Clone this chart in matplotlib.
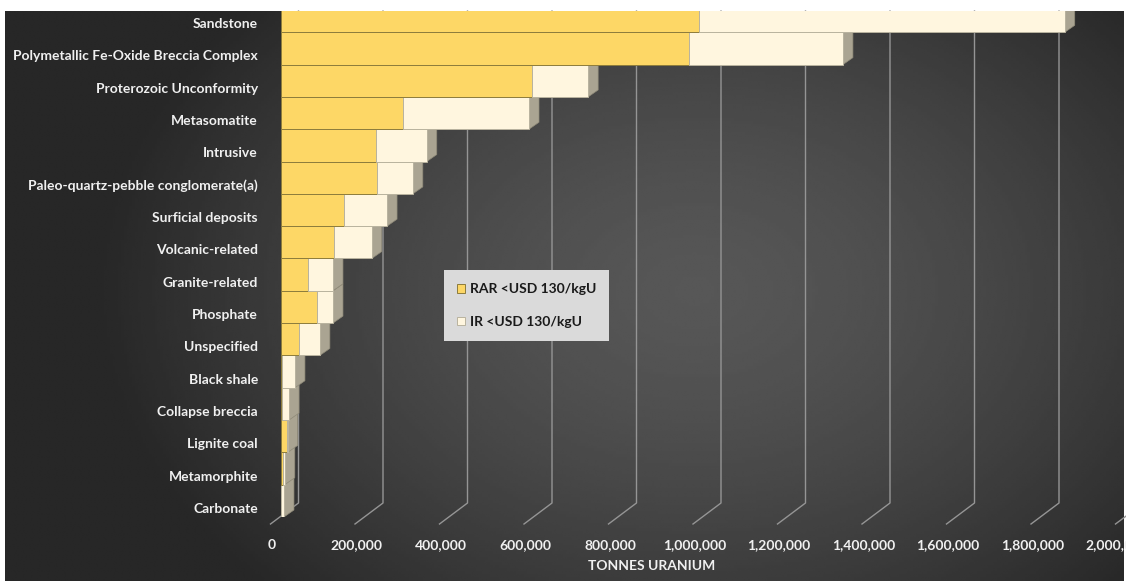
import numpy as np
import matplotlib
matplotlib.use('Agg')
import matplotlib.pyplot as plt
from matplotlib.patches import Polygon
from matplotlib.ticker import FuncFormatter
from matplotlib.transforms import ScaledTranslation

# Uranium resources by deposit type (tonnes U)
categories = ['Sandstone', 'Polymetallic Fe-Oxide Breccia Complex', 'Proterozoic Unconformity',
              'Metasomatite', 'Intrusive', 'Paleo-quartz-pebble conglomerate(a)', 'Surficial deposits',
              'Volcanic-related', 'Granite-related', 'Phosphate', 'Unspecified', 'Black shale',
              'Collapse breccia', 'Lignite coal', 'Metamorphite', 'Carbonate']
rar = [990000, 965000, 594000, 289000, 225000, 227000, 149000, 125000,
       64000, 85000, 43000, 2000, 3000, 14000, 5000, 1000]
ir = [865000, 365000, 133000, 298000, 120000, 85000, 102000, 90000,
      59000, 38000, 49000, 31000, 16000, 2000, 4000, 6000]
series_names = ['RAR <USD 130/kgU', 'IR <USD 130/kgU']
xticks = [0, 200000, 400000, 600000, 800000, 1000000, 1200000, 1400000, 1600000, 1800000, 2000000]

W, H, DPI = 1126, 581, 100
plt.rcParams['font.family'] = ['Lato', 'DejaVu Sans']
plt.rcParams['font.weight'] = 'bold'
txt_col = '#f0f0f0'
fs = 10

fig = plt.figure(figsize=(W / DPI, H / DPI), dpi=DPI, facecolor='white')

# dark radial gradient background
bg = fig.add_axes([5 / W, 0, 1119 / W, 570 / H], zorder=-5)
gx, gy = np.meshgrid(np.linspace(0, 1119, 400), np.linspace(0, 570, 200))
r = np.sqrt(((gx - 690) / 600) ** 2 + ((gy - 280) / 430) ** 2)
shade = 0x57 - (0x57 - 0x27) * np.clip(r, 0, 1) ** 1.5
bg.imshow(shade, cmap='gray', vmin=0, vmax=255, aspect='auto', interpolation='bilinear')
bg.axis('off')

# main axes: x=0 at 281 px, 2,000,000 at 1126 px; bar rows 32.3 px high
left, top, bottom = 281, 11, 517
ax = fig.add_axes([left / W, 1 - bottom / H, (W - left) / W, (bottom - top) / H])
ax.set_facecolor('none')
n = len(categories)
row_px = 32.3
ax.set_xlim(0, 2000000)
ax.set_ylim(n - 0.5, -0.5 + top / row_px)

xpp = 2000000 / (W - left)     # data per pixel (x)
ypp = 1 / row_px               # data per pixel (y)

# back wall gridlines with slanted floor segments
ylo, yhi = ax.get_ylim()
for v in xticks:
    xs = [v + 17.5 * xpp, v + 17.5 * xpp, v - 10.5 * xpp]
    ys = [yhi, ylo - 14 * ypp, ylo + 7 * ypp]
    ax.plot(xs, ys, color='#959595', lw=1, clip_on=False, zorder=1)

ypos = np.arange(n)
rar_col, ir_col = '#fdd766', '#fff6df'
side_col = '#aaa492'
dx, dy = 10 * xpp, 7 * ypp
handles = []
for i in range(n - 1, -1, -1):
    z = 10 + (n - i) * 3
    total = rar[i] + ir[i]
    b1 = ax.barh(ypos[i], rar[i], height=1.0, color=rar_col, edgecolor='#8d7c3c', lw=0.7, zorder=z)
    b2 = ax.barh(ypos[i], ir[i], left=rar[i], height=1.0, color=ir_col, edgecolor='#b9b39f', lw=0.7, zorder=z)
    yt, yb = ypos[i] - 0.5, ypos[i] + 0.5
    side = Polygon([(total, yt), (total, yb), (total + dx, yb - dy), (total + dx, yt - dy)],
                   closed=True, facecolor=side_col, edgecolor='#8f8a78', lw=0.5, zorder=z - 1)
    ax.add_patch(side)
    if i == 0:
        handles = [b1, b2]

ax.set_yticks(ypos)
ax.set_yticklabels(categories)
ax.set_xticks(xticks)
ax.xaxis.set_major_formatter(FuncFormatter(lambda v, p: '{:,.0f}'.format(v)))
ax.tick_params(axis='y', length=0, pad=16.5, labelsize=fs, labelcolor=txt_col)
ax.tick_params(axis='x', length=0, pad=16, labelsize=fs, labelcolor=txt_col)
for lab in ax.get_yticklabels():
    lab.set_fontweight('bold')
    lab.set_transform(lab.get_transform() + ScaledTranslation(0, -7 / DPI, fig.dpi_scale_trans))
for lab in ax.get_xticklabels():
    lab.set_fontweight('bold')
    lab.set_transform(lab.get_transform() + ScaledTranslation(-9 / DPI, 0, fig.dpi_scale_trans))
for s in ax.spines.values():
    s.set_visible(False)

fig.text(652 / W, 1 - 566 / H, 'TONNES URANIUM', color=txt_col, fontsize=fs,
         fontweight='bold', ha='center', va='center')

leg = ax.legend(handles, series_names, loc='upper left',
                bbox_to_anchor=(437 / W, 1 - 263 / H), bbox_transform=fig.transFigure,
                facecolor='#dadada', edgecolor='none', framealpha=1, fancybox=False,
                handlelength=0.6, handleheight=0.6, handletextpad=0.3, labelspacing=1.5,
                borderpad=0.95, fontsize=fs)
leg.set_zorder(100)
for t in leg.get_texts():
    t.set_color('#1a1a1a')
    t.set_fontweight('bold')

fig.savefig('out.png', dpi=DPI)
